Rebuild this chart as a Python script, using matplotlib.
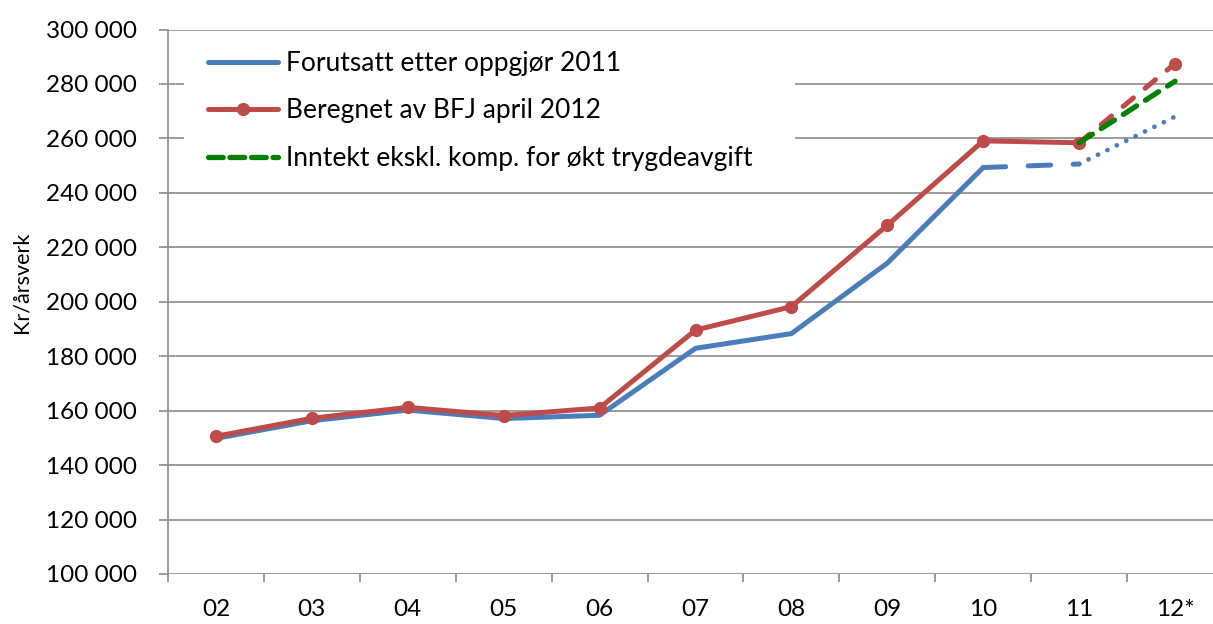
import matplotlib
matplotlib.use("Agg")
import matplotlib.pyplot as plt
from matplotlib.patches import Rectangle
from matplotlib.lines import Line2D
from matplotlib.ticker import FuncFormatter, FixedLocator

plt.rcParams['font.family'] = ['Lato', 'DejaVu Sans']

categories = ["02", "03", "04", "05", "06", "07", "08", "09", "10", "11", "12*"]
forutsatt = [149800, 156300, 160200, 157100, 158300, 182900, 188300, 214200, 249300, 250600, 268000]
beregnet = [150600, 157200, 161200, 158200, 161000, 189600, 198200, 228100, 259100, 258400, 287500]
inntekt_ekskl = [None, None, None, None, None, None, None, None, None, 258400, 281000]

labels = ["Forutsatt etter oppgjør 2011", "Beregnet av BFJ april 2012",
          "Inntekt ekskl. komp. for økt trygdeavgift"]
y_ticks = list(range(100000, 300001, 20000))
y_label = "Kr/årsverk"

BLUE = "#4A7EBB"
RED = "#BE4B48"
GREEN = "#008000"
GRID = "#939393"

W, H = 1213, 624
fig = plt.figure(figsize=(W / 100, H / 100), dpi=100)
ax_l, ax_r, ax_b, ax_t = 168, 1223, 574, 29.5
ax = fig.add_axes([ax_l / W, 1 - ax_b / H, (ax_r - ax_l) / W, (ax_b - ax_t) / H])

x = list(range(len(categories)))
lw = 3.6

# Blue series: solid, then dashed, then dotted
ax.plot(x[:9], forutsatt[:9], color=BLUE, lw=lw, solid_capstyle='round', solid_joinstyle='round', zorder=3)
ax.plot(x[8:10], forutsatt[8:10], color=BLUE, lw=lw, dashes=(4.5, 4.5), dash_capstyle='round', zorder=3)
ax.plot(x[9:11], forutsatt[9:11], color=BLUE, lw=lw * 0.95, dashes=(0.01, 2.2), dash_capstyle='round', zorder=3)

# Red series
ax.plot(x[:10], beregnet[:10], color=RED, lw=lw, marker='o', markersize=8.5,
        solid_joinstyle='round', zorder=4)
ax.plot(x[9:11], beregnet[9:11], color=RED, lw=lw, dashes=(2.7, 3.0), dash_capstyle='round', zorder=4)
ax.plot(x[10:11], beregnet[10:11], color=RED, lw=0, marker='o', markersize=8.5, zorder=4)

# Green series
gx = [xi for xi, v in zip(x, inntekt_ekskl) if v is not None]
gy = [v for v in inntekt_ekskl if v is not None]
ax.plot(gx, gy, color=GREEN, lw=lw * 1.05, dashes=(3.0, 2.0), dash_capstyle='round', zorder=5)

ax.set_xlim(-0.5, len(categories) - 0.5)
ax.set_ylim(y_ticks[0], y_ticks[-1])

ax.set_yticks(y_ticks)
ax.yaxis.set_major_formatter(FuncFormatter(lambda v, p: f"{v:,.0f}".replace(",", " ")))
ax.set_xticks(x)
ax.set_xticklabels(categories)
ax.xaxis.set_minor_locator(FixedLocator([i - 0.5 for i in range(len(categories) + 1)]))

ax.tick_params(axis='x', which='major', length=0, pad=18, labelsize=17.5)
ax.tick_params(axis='x', which='minor', length=6, width=1.3, color=GRID, direction='out')
ax.tick_params(axis='y', which='major', length=6.5, width=1.3, color=GRID, direction='out',
               pad=16, labelsize=17.5)

ax.grid(axis='y', color=GRID, lw=1.3)
ax.set_axisbelow(True)
for s in ['top', 'right']:
    ax.spines[s].set_visible(False)
for s in ['left', 'bottom']:
    ax.spines[s].set_color(GRID)
    ax.spines[s].set_linewidth(1.3)
ax.spines['bottom'].set_visible(False)

fig.text(22 / W, 1 - 282 / H, y_label, rotation=90, ha='center', va='center', fontsize=15.5)

# white legend area covering gridlines
def ax_coords(px, py):
    return ((px - ax_l) / (ax_r - ax_l), (ax_b - py) / (ax_b - ax_t))

x0, y0 = ax_coords(184, 188)
x1, y1 = ax_coords(795, 33)
ax.add_patch(Rectangle((x0, y0), x1 - x0, y1 - y0, transform=ax.transAxes,
                       facecolor='white', edgecolor='none', zorder=1.5))

handles = [
    Line2D([], [], color=BLUE, lw=lw, solid_capstyle='round'),
    Line2D([], [], color=RED, lw=lw, marker='o', markersize=8.5, solid_capstyle='round'),
    Line2D([], [], color=GREEN, lw=lw * 1.05, dashes=(2.8, 1.3), dash_capstyle='round'),
]
lx, ly = ax_coords(208, 51)
leg = ax.legend(handles, labels, loc='upper left', bbox_to_anchor=(lx, ly),
                frameon=False, fontsize=19, handlelength=2.65, handletextpad=0.3,
                labelspacing=0.85, borderpad=0, borderaxespad=0)
leg.set_zorder(6)

fig.savefig("out.png", dpi=100)
